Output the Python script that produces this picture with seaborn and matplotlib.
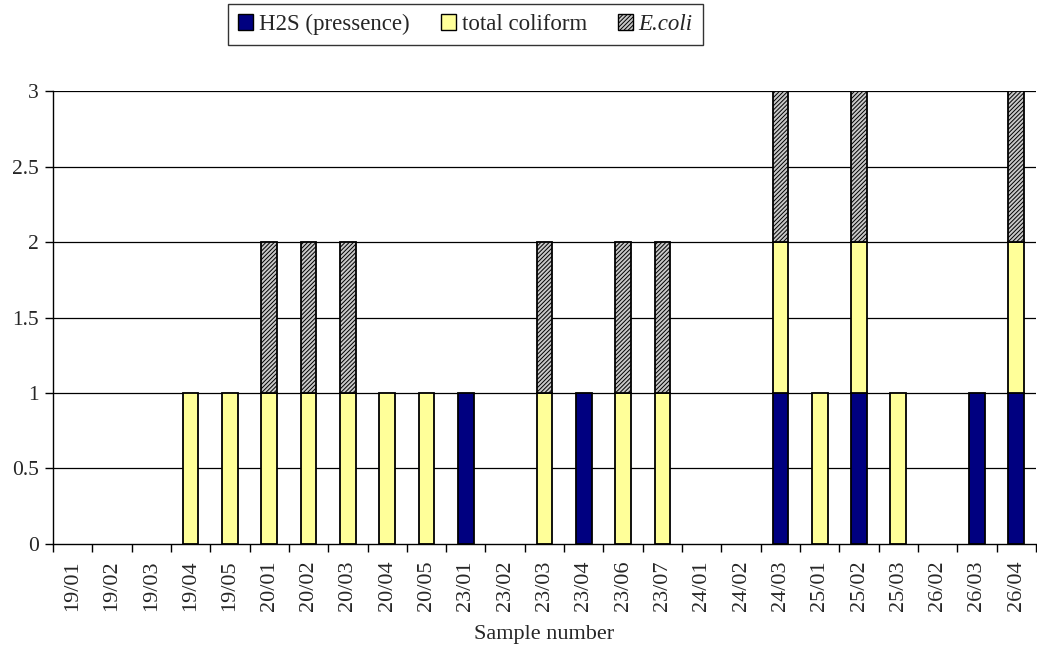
import numpy as np
import pandas as pd
import matplotlib
matplotlib.use("Agg")
import matplotlib.pyplot as plt
import seaborn as sns
from matplotlib.patches import Patch

samples = ["19/01", "19/02", "19/03", "19/04", "19/05",
           "20/01", "20/02", "20/03", "20/04", "20/05",
           "23/01", "23/02", "23/03", "23/04", "23/06", "23/07",
           "24/01", "24/02", "24/03",
           "25/01", "25/02", "25/03",
           "26/02", "26/03", "26/04"]
h2s = [0, 0, 0, 0, 0, 0, 0, 0, 0, 0, 1, 0, 0, 1, 0, 0, 0, 0, 1, 0, 1, 0, 0, 1, 1]
coliform = [0, 0, 0, 1, 1, 1, 1, 1, 1, 1, 0, 0, 1, 0, 1, 1, 0, 0, 1, 1, 1, 1, 0, 0, 1]
ecoli = [0, 0, 0, 0, 0, 1, 1, 1, 0, 0, 0, 0, 1, 0, 1, 1, 0, 0, 1, 0, 1, 0, 0, 0, 1]

sns.set_theme(style="white")
plt.rcParams["font.family"] = ["Liberation Serif", "DejaVu Serif"]
plt.rcParams["hatch.color"] = "#444444"
plt.rcParams["hatch.linewidth"] = 0.7

df = pd.DataFrame({"sample": samples, "h2s": h2s, "coliform": coliform, "ecoli": ecoli})
df["base_col"] = df["h2s"]
df["base_eco"] = df["h2s"] + df["coliform"]

fig = plt.figure(figsize=(10.37, 6.45), dpi=100)
ax = fig.add_axes([0.0511, 0.1566, 0.9479, 0.7023])

# horizontal reference lines every 0.5
for y in np.arange(0.5, 3.01, 0.5):
    ax.axhline(y, color="black", lw=0.9, zorder=0)

bw = 0.4
d = df[df["h2s"] > 0]
sns.barplot(data=d, x="sample", y="h2s", order=samples, color="#000080",
            width=bw, edgecolor="black", linewidth=1.3, saturation=1, ax=ax, zorder=3)
d = df[df["coliform"] > 0]
sns.barplot(data=d, x="sample", y="coliform", order=samples, color="#FFFF99",
            bottom=d["base_col"].values, width=bw, edgecolor="black", linewidth=1.3,
            saturation=1, ax=ax, zorder=3)
d = df[df["ecoli"] > 0]
sns.barplot(data=d, x="sample", y="ecoli", order=samples, color="#C8C8C8",
            bottom=d["base_eco"].values, width=bw, edgecolor="black", linewidth=1.3,
            hatch="////////", saturation=1, ax=ax, zorder=3)

ax.set_xlim(-0.5, len(samples) - 0.5)
ax.set_ylim(0, 3)
ax.set_yticks(np.arange(0, 3.01, 0.5))
ax.set_yticklabels(["0", "0.5", "1", "1.5", "2", "2.5", "3"], fontsize=15.5)
ax.set_xticks(range(len(samples)))
ax.set_xticklabels(samples, rotation=90, fontsize=16)
ax.tick_params(axis="x", length=0, pad=12)
ax.set_xticks(np.arange(-0.5, len(samples), 1), minor=True)
ax.tick_params(axis="x", which="minor", length=6, width=1, color="black", bottom=True)
ax.tick_params(axis="y", length=6, width=1, color="black", left=True, pad=4)
ax.set_xlabel("Sample number", fontsize=16, labelpad=10)
ax.set_ylabel("")

for s in ["top", "right"]:
    ax.spines[s].set_visible(False)
for s in ["left", "bottom"]:
    ax.spines[s].set_color("black")
    ax.spines[s].set_linewidth(1)

handles = [
    Patch(facecolor="#000080", edgecolor="black", label="H2S (pressence)"),
    Patch(facecolor="#FFFF99", edgecolor="black", label="total coliform"),
    Patch(facecolor="#C8C8C8", edgecolor="black", hatch="////////", label="E.coli"),
]
leg = fig.legend(handles=handles, loc="center", bbox_to_anchor=(0.449, 0.962), ncol=3,
                 frameon=True, fontsize=16.5, handlelength=0.65, handleheight=0.65,
                 handletextpad=0.26, columnspacing=1.35, borderpad=0.45, fancybox=False)
leg.get_frame().set_edgecolor("black")
leg.get_frame().set_linewidth(1)
leg.texts[2].set_fontstyle("italic")

fig.savefig("out.png", dpi=100)
